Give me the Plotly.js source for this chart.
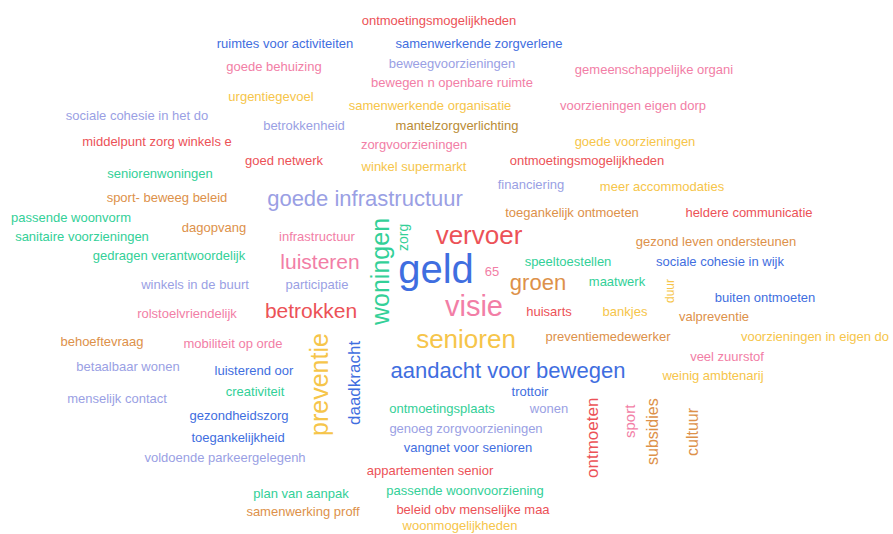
<!DOCTYPE html>
<html>
<head>
<meta charset="utf-8">
<script src="https://cdn.plot.ly/plotly-3.0.1.min.js"></script>
<style>html,body{margin:0;padding:0;background:#fff;}#chart{width:893px;height:534px;}</style>
</head>
<body>
<div id="chart"></div>
<script>
// Horizontal words
const words = [
  "ontmoetingsmogelijkheden","ruimtes voor activiteiten","samenwerkende zorgverlene","goede behuizing","beweegvoorzieningen",
  "gemeenschappelijke organi","bewegen n openbare ruimte","urgentiegevoel","samenwerkende organisatie","voorzieningen eigen dorp",
  "sociale cohesie in het do","betrokkenheid","mantelzorgverlichting","middelpunt zorg winkels e","zorgvoorzieningen",
  "goede voorzieningen","goed netwerk","ontmoetingsmogelijkheden","winkel supermarkt","seniorenwoningen",
  "sport- beweeg beleid","goede infrastructuur","financiering","meer accommodaties","passende woonvorm",
  "dagopvang","toegankelijk ontmoeten","heldere communicatie","sanitaire voorzieningen","infrastructuur",
  "vervoer","gezond leven ondersteunen","gedragen verantwoordelijk","luisteren","geld",
  "65","speeltoestellen","sociale cohesie in wijk","winkels in de buurt","participatie",
  "groen","maatwerk","buiten ontmoeten","visie","betrokken",
  "rolstoelvriendelijk","huisarts","bankjes","valpreventie","senioren",
  "preventiemedewerker","voorzieningen in eigen do","behoeftevraag","mobiliteit op orde","aandacht voor bewegen",
  "veel zuurstof","weinig ambtenarij","betaalbaar wonen","luisterend oor","creativiteit",
  "menselijk contact","trottoir","ontmoetingsplaats","wonen","gezondheidszorg",
  "genoeg zorgvoorzieningen","toegankelijkheid","vangnet voor senioren","voldoende parkeergelegenh","appartementen senior",
  "plan van aanpak","passende woonvoorziening","samenwerking proff","beleid obv menselijke maa","woonmogelijkheden"
];
const wordX = [
  439,285,479,274,452, 654,452,271,430,633, 137,304,457,157,414, 635,284,587,414,160,
  167,365,531,662,71, 214,572,749,82,317, 479,716,169,320,436, 492,568,720,195,317,
  538,617,765,474,311, 187,549,625,714,466, 608,815,102,233,508, 727,713,128,254,255,
  117,530,442,549,239, 466,238,468,225,430, 301,465,303,473,460
];
const wordY = [
  22,45,45,68,65, 71,84,98,107,107, 117,127,127,143,146, 143,162,162,168,175,
  199,200,186,188,219, 229,214,214,238,238, 237,243,257,264,273, 273,263,263,286,286,
  284,283,299,309,313, 315,313,313,318,341, 338,338,343,345,372, 358,377,368,372,393,
  400,393,410,410,417, 430,439,449,459,472, 495,492,513,511,527
];
const wordSize = [
  13,13,13,13,13, 13,13,13,13,13, 13,13,13,13,13, 13,13,13,13,13,
  13,22,13,13,13, 13,13,13,13,13, 26,13,13,21,40, 13,13,13,13,13,
  22,13,13,29,21, 13,13,13,13,26, 13,13,13,13,22, 13,13,13,13,13,
  13,13,13,13,13, 13,13,13,13,13, 13,13,13,13,13
];
const wordColor = [
  "red","blue","blue","pink","lav", "pink","pink","yellow","yellow","pink", "lav","lav","brown","red","pink",
  "yellow","red","red","yellow","green", "orange","lav","lav","yellow","green", "orange","orange","red","green","pink",
  "red","orange","green","pink","blue", "pink","green","blue","lav","lav", "orange","green","blue","pink","red",
  "pink","red","yellow","orange","yellow", "orange","yellow","orange","pink","blue", "pink","yellow","lav","blue","green",
  "lav","blue","green","lav","blue", "lav","blue","blue","lav","red", "green","green","orange","red","yellow"
];
// Vertical words (rotated)
const vWords = ["woningen","zorg","duur","preventie","daadkracht","ontmoeten","sport","subsidies","cultuur"];
const vX = [380,403,670,319,354,592,629,652,692];
const vY = [272,238,291,385,383,438,421,432,432];
const vSize = [25,14,12,25,17,17,15,16,16];
const vColor = ["green","green","yellow","yellow","blue","red","pink","orange","orange"];

const palette = {
  red:"#ec5257", blue:"#3f6ee0", lav:"#9a9fe4", pink:"#f27ea6",
  yellow:"#f6c54a", orange:"#dd914a", green:"#33d098", brown:"#b98b35"
};
const FONT = "Liberation Sans, Arial, sans-serif";

const trace = {
  type:"scatter", mode:"text",
  x: wordX, y: wordY, text: words,
  textposition:"middle center",
  textfont:{family:FONT, size:wordSize, color:wordColor.map(c=>palette[c])},
  hoverinfo:"none", showlegend:false
};

const annotations = vWords.map((w,i)=>({
  x:vX[i], y:vY[i], xref:"x", yref:"y", text:w, showarrow:false,
  textangle:-90, font:{family:FONT, size:vSize[i], color:palette[vColor[i]]},
  xanchor:"center", yanchor:"middle"
}));

const layout = {
  width:893, height:534,
  margin:{l:0,r:0,t:0,b:0},
  paper_bgcolor:"#ffffff", plot_bgcolor:"#ffffff",
  xaxis:{range:[0,893], visible:false, fixedrange:true},
  yaxis:{range:[534,0], visible:false, fixedrange:true},
  annotations: annotations,
  showlegend:false
};
Plotly.newPlot("chart",[trace],layout,{displayModeBar:false, staticPlot:true});
</script>
</body>
</html>
